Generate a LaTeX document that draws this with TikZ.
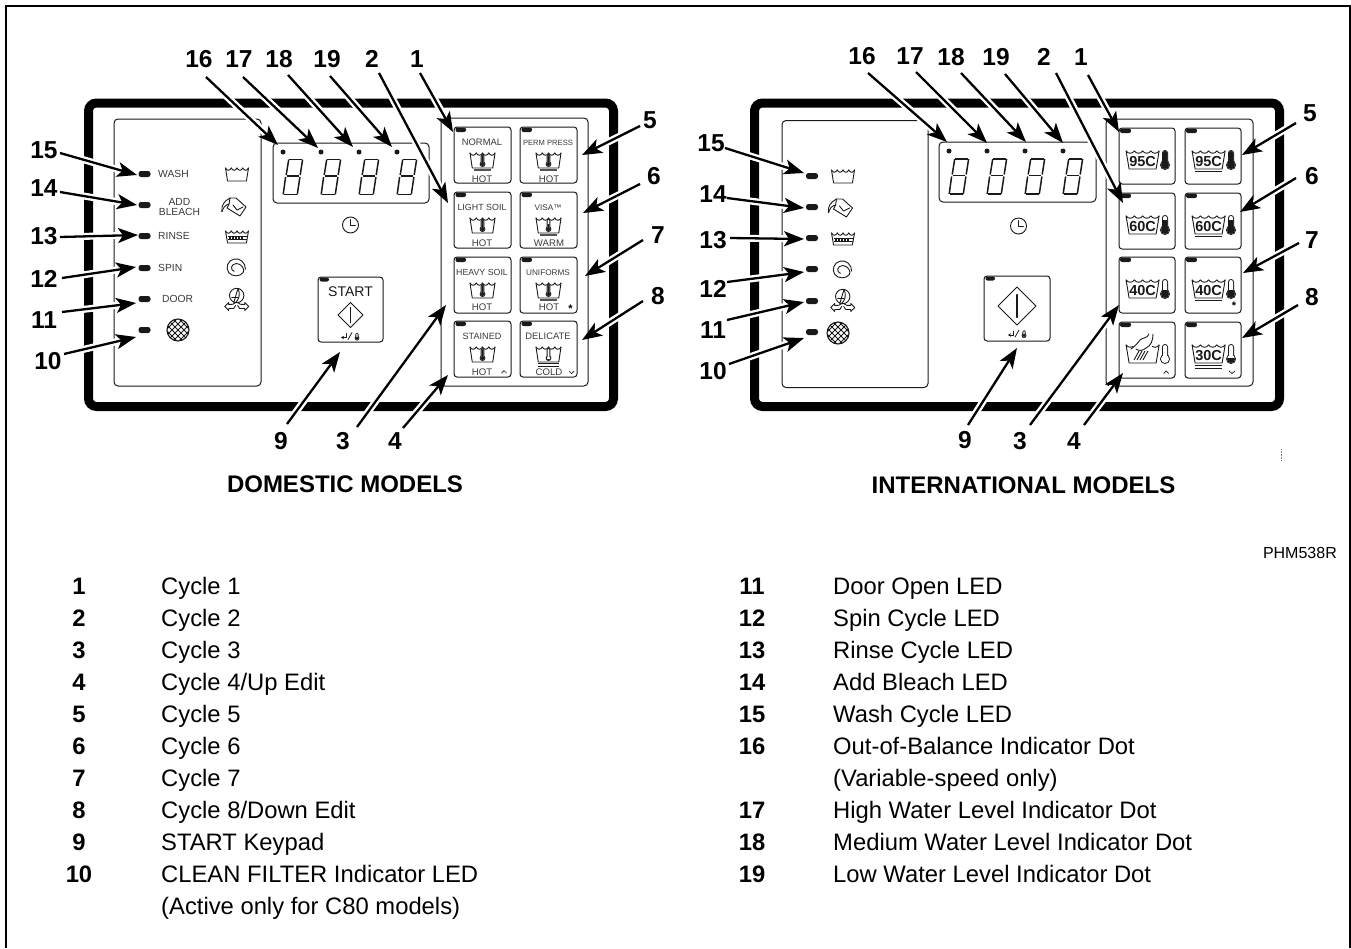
\documentclass[tikz,border=0pt]{standalone}
\usepackage{fontspec}
\setmainfont{Liberation Sans}
\usetikzlibrary{arrows.meta}
\definecolor{ink}{HTML}{1A1A1A}
\definecolor{soft}{HTML}{3A3A3A}
\tikzset{
  box/.style={draw=ink,line width=1pt,rounded corners=4pt},
  key/.style={draw=ink,line width=1pt,fill=white,rounded corners=3pt},
  ic/.style={draw=ink,line width=0.9pt,line cap=round,line join=round},
  led/.style={fill=ink,rounded corners=2.5pt},
  num/.style={font=\fontsize{24.5}{28}\selectfont\bfseries,inner sep=0pt,text=black},
  lst/.style={font=\fontsize{23.8}{28}\selectfont,inner sep=0pt,anchor=base west,text=black},
  lnum/.style={font=\fontsize{23.8}{28}\selectfont\bfseries,inner sep=0pt,anchor=base,text=black},
  ttl/.style={font=\fontsize{24}{28}\selectfont\bfseries,inner sep=0pt,text=black},
  kt/.style={font=\fontsize{9.6}{11}\selectfont,inner sep=0pt,text=soft},
  fs/.style={font=\fontsize{#1}{11}\selectfont},
  lt/.style={font=\fontsize{10.3}{10.5}\selectfont,inner sep=0pt,text=soft,anchor=west},
  halo/.style={draw=white,line width=7pt,shorten >=14pt},
  arrowline/.style={draw=black,line width=2.3pt,-{Stealth[length=20pt,width=15pt,inset=5pt]}},
}
\newcommand\ledmark[2]{\fill[led] ({#1-6},{#2-3}) rectangle ({#1+6},{#2+3});}
\newcommand\tubicon[5]{%
  \begin{scope}[shift={(#1,#2)}]
    \pgfmathsetmacro\tubs{#3/#5}
    \foreach \tubi in {1,...,#5}{
      \pgfmathsetmacro\tuba{-#3/2+(\tubi-1)*\tubs}
      \pgfmathsetmacro\tubb{\tuba+\tubs}
      \pgfmathsetmacro\tubca{\tuba+.25*\tubs}
      \pgfmathsetmacro\tubcb{\tuba+.75*\tubs}
      \draw[ic] (\tuba,0) .. controls (\tubca,3) and (\tubcb,3) .. (\tubb,0);
    }
    \draw[ic] ({-#3/2},0) -- ({-#3/2+#3*.09},#4) -- ({#3/2-#3*.09},#4) -- ({#3/2},0);
  \end{scope}}
\newcommand\thermo[6]{%
  \begin{scope}[shift={(#1,#2)}]
    \pgfmathsetmacro\thw{#4/2}
    \pgfmathsetmacro\thy{#3-#5}
    \pgfmathsetmacro\thwi{max(\thw-1,0.3)}
    \pgfmathsetmacro\thri{#5-1}
    \pgfmathsetmacro\thti{1}
    \pgfmathsetmacro\thlev{\thy+#5-(#6)*#3}
    \fill[ink] (0,\thy) circle (#5);
    \fill[ink,rounded corners=\thw pt] (-\thw,0) rectangle (\thw,\thy);
    \fill[white] (0,\thy) circle (\thri);
    \fill[white,rounded corners=\thwi pt] (-\thwi,\thti) rectangle (\thwi,\thy);
    \begin{scope}
      \clip (-20,\thlev) rectangle (20,{#3+2});
      \fill[ink] (0,\thy) circle (\thri);
      \fill[ink,rounded corners=\thwi pt] (-\thwi,\thti) rectangle (\thwi,\thy);
    \end{scope}
  \end{scope}}
\newcommand\sevenseg[2]{%
  \begin{scope}[shift={(#1,#2)},line width=1.5pt,draw=ink,line cap=butt]
    \draw (6.2,0.6) -- (19,0.6);
    \draw (19.6,0.6) -- (17.2,16);
    \draw (16.9,18) -- (14.3,35.4);
    \draw (14,35.4) -- (1,35.4);
    \draw (0.2,35.4) -- (2.6,18);
    \draw (3.2,16) -- (5.7,0.6);
    \draw (3.8,17) -- (16,17);
  \end{scope}}
\newcommand\clockicon[2]{%
  \begin{scope}[shift={(#1,#2)}]
    \draw[ic] (0,0) circle (8);
    \draw[ic] (0,-5.5) -- (0,0) -- (5,0);
  \end{scope}}
\newcommand\bleachicon[2]{%
  \begin{scope}[shift={(#1,#2)}]
    \draw[ic] (-2,-9) -- (4,-9) -- (14,0) -- (8,9) -- (-5,1) -- (-3,-3) -- cycle;
    \draw[ic] (-2,-9) .. controls (-8,-6) and (-11,-1) .. (-10,4);
    \draw[ic] (-3,-3) .. controls (-7,-2) and (-9,1) .. (-10,4);
    \draw[ic] (1,-2) -- (5,3) -- (11,0);
    \fill[ink] (-10,4) circle (1);
  \end{scope}}
\newcommand\spinicon[2]{%
  \begin{scope}[shift={(#1,#2)},scale=1.12]
    \draw[ic] (8,1) .. controls (8,-5) and (3,-9) .. (-2,-8) .. controls (-8,-7) and (-10,0) .. (-7,4)
      .. controls (-4,8) and (3,8) .. (6,4) .. controls (8,1) and (4,-4) .. (0,-4)
      .. controls (-5,-4) and (-6,2) .. (-2,3);
  \end{scope}}
\newcommand\dooricon[2]{%
  \begin{scope}[shift={(#1,#2)}]
    \draw[ic] (0,-8) circle (7.2);
    \draw[ic] (1.5,-15) .. controls (-1,-9) and (-1,-6) .. (-3,-1);
    \draw[ic] (1.5,-15) .. controls (4,-9) and (2,-4) .. (-1,-1);
    \draw[ic] (-5,-6) -- (1,-6);
    \draw[ic] (-1,-1) .. controls (-2,1) and (-5,1) .. (-8,1);
    \draw[ic] (1,-1) .. controls (2,1) and (5,1) .. (8,1);
    \draw[ic] (-8,1) -- (-8,-1) -- (-12,3) -- (-8,7) -- (-8,5) -- (-3,5) -- (-1,2);
    \draw[ic] (8,1) -- (8,-1) -- (12,3) -- (8,7) -- (8,5) -- (3,5) -- (1,2);
  \end{scope}}
\newcommand\filtericon[2]{%
  \begin{scope}[shift={(#1,#2)}]
    \fill[white] (0,0) circle (11);
    \begin{scope}
      \clip (0,0) circle (11);
      \foreach \fo in {-24,-18,...,24}{
        \draw[ink,line width=1pt] (\fo-12,-12) -- (\fo+12,12);
        \draw[ink,line width=1pt] (\fo-12,12) -- (\fo+12,-12);
      }
    \end{scope}
    \draw[ink,line width=1.1pt] (0,0) circle (11);
  \end{scope}}
\newcommand\startdiamond[3]{%
  \begin{scope}[shift={(#1,#2)}]
    \draw[ic,line width=1pt] (-#3,0) -- (0,-#3) -- (#3,0) -- (0,#3) -- cycle;
    \draw[ic,line width=1.1pt] (0,{-#3*.6}) -- (0,{#3*.6});
  \end{scope}}
\newcommand\startmark[3]{%
  \begin{scope}[shift={(#1,#2)}]
    \draw[ic,line width=.8pt,-{Stealth[length=3pt,width=3.5pt]}] (-5,-3) -- (-5,1) -- (-10,1);
    \draw[ic,line width=.8pt] (-3,3) -- (1,-4);
    \thermo{6}{-4}{8}{3.4}{2.4}{#3}
  \end{scope}}
\newcommand\dkey[7]{%
  \begin{scope}[shift={(#1,#2)}]
    \draw[key] (0,0) rectangle (57,56);
    \fill[ink,rounded corners=2pt] (1.5,0.5) rectangle (12,5);
    \node[kt,#7] (#3) at (28,15.5) {#4};
    \tubicon{28.5}{26}{25}{15}{4}
    \thermo{28.5}{27}{13}{3.6}{2.9}{#5}
    #6
  \end{scope}}
\newcommand\ubar{\draw[ink!75,line width=1.1pt] (20,43) -- (37,43);}
\newcommand\ubars{\draw[ink,line width=.9pt] (18,42) -- (39,42) (18,45) -- (39,45);}
\newcommand\ikey[5]{%
  \begin{scope}[shift={(#1,#2)}]
    \draw[key] (0,0) rectangle (56,56);
    \fill[ink,rounded corners=2pt] (1,0.5) rectangle (12,5);
    \tubicon{23.6}{23}{33}{18}{4}
    \node[inner sep=0pt,font=\fontsize{14.5}{16}\selectfont\bfseries,text=ink] at (23.6,33.7) {#3};
    \thermo{46}{22}{20}{6}{5}{#4}
    #5
  \end{scope}}
\newcommand\iubar{\draw[ink,line width=.9pt] (10,43.7) -- (37,43.7);}
\newcommand\iubars{\draw[ink,line width=.9pt] (10,43) -- (37,43) (10,46) -- (37,46);}
\newcommand\callout[5]{%
  \node[num] (n#1) at (#2) {#3};
  \coordinate (s#1) at (#4);
  \coordinate (t#1) at (#5);
  \draw[halo] (s#1) -- (t#1);
  \draw[arrowline] (s#1) -- (t#1);}
\begin{document}
\begin{tikzpicture}[x=1pt,y=-1pt]
\useasboundingbox (0,0) rectangle (1351,948);
\fill[white] (0,0) rectangle (1351,948);
\coordinate (fa) at (6,948);
\coordinate (fb) at (6,6.2);
\coordinate (fc) at (1350.2,6.2);
\coordinate (fd) at (1350.2,948);
\draw[black,line width=2.3pt] (fa) -- (fb) -- (fc) -- (fd);

% ----- domestic panel -----
\draw[black,line width=9pt,rounded corners=8pt] (88.5,103) rectangle (613.5,406.5);
\draw[box] (114,119) rectangle (261,386);
\draw[box] (441,118) rectangle (588,386);
\draw[box] (273,143) rectangle (429,203);
\foreach \dx in {283,321,359,397}{\fill[ink] (\dx,152) circle (2.5);
  \sevenseg{\dx}{159}}
\clockicon{350.5}{225}
\foreach \ly in {174,205,236,268,299,330}{\ledmark{144.5}{\ly}}
\node[lt] (dwash) at (158,174) {WASH};
\node[lt,anchor=center,align=center] (dbleach) at (179.5,207) {ADD\\BLEACH};
\node[lt] (drinse) at (158,236) {RINSE};
\node[lt] (dspin) at (158,268) {SPIN};
\node[lt] (ddoor) at (162,299) {DOOR};
\tubicon{237}{168}{23}{13}{4}
\bleachicon{232}{207}
\tubicon{237}{231}{23}{12}{4}
\draw[ink,line width=.7pt] (227.5,236) -- (246.5,236) (227.5,239) -- (246.5,239);
\foreach \gx in {230,233,236,239,242}{\draw[ink,line width=1.1pt] (\gx,236) -- (\gx,239);}
\spinicon{236.5}{268}
\dooricon{236.7}{303.5}
\filtericon{178}{330}
\draw[key] (318,277) rectangle (383,342);
\fill[ink,rounded corners=2pt] (319.5,277.5) rectangle (329,281.5);
\node[inner sep=0pt,font=\fontsize{14}{16}\selectfont,text=ink] (dstart) at (350.5,292) {START};
\startdiamond{350.5}{315}{12.5}
\startmark{351}{336.5}{0.4}
\dkey{454}{127}{kNormal}{NORMAL}{1}{\ubar}{fs=9.4}
\dkey{454}{192}{kLight}{LIGHT SOIL}{1}{}{fs=8.9}
\dkey{454}{257}{kHeavy}{HEAVY SOIL}{1}{}{fs=8.8}
\dkey{454}{321}{kStained}{STAINED}{1}{}{fs=9.1}
\dkey{520}{127}{kPerm}{PERM PRESS}{1}{\ubar}{fs=7.6}
\dkey{520}{192}{kVisa}{VISA™}{.55}{\ubar}{fs=8.2}
\dkey{520}{257}{kUni}{UNIFORMS}{1}{\ubar}{fs=8.2}
\dkey{520}{321}{kDel}{DELICATE}{.12}{\ubars}{fs=9.4}
\node[kt] (h1) at (482,179) {HOT};
\node[kt] (h2) at (482,243) {HOT};
\node[kt] (h3) at (482,307) {HOT};
\node[kt] (h4) at (482,372) {HOT};
\node[kt] (h5) at (549,179) {HOT};
\node[kt] (h6) at (549,243) {WARM};
\node[kt] (h7) at (549,307) {HOT};
\node[kt] (h8) at (549,372) {COLD};
\node[inner sep=0pt,font=\fontsize{11}{11}\selectfont\bfseries] (st1) at (570.5,309) {*};
\draw[ink,line width=.7pt] (501.5,373) -- (504,370.5) -- (506.5,373);
\draw[ink,line width=.7pt] (569,371) -- (571.5,373.5) -- (574,371);

% ----- international panel -----
\draw[black,line width=9pt,rounded corners=8pt] (754.5,103) rectangle (1279.5,406.5);
\draw[box] (782,120.5) rectangle (928,387.5);
\draw[box] (1106,119) rectangle (1253,386);
\draw[box] (939,142) rectangle (1096,202);
\foreach \dx in {949,987,1025,1063}{\fill[ink] (\dx,151) circle (2.5);
  \sevenseg{\dx}{158.5}}
\clockicon{1018.5}{226}
\foreach \ly in {176,207,238,269,301,332}{\ledmark{812}{\ly}}
\tubicon{843}{170}{23}{13}{4}
\bleachicon{838.5}{208}
\tubicon{843}{233}{23}{12}{4}
\draw[ink,line width=.7pt] (833.5,238) -- (852.5,238) (833.5,241) -- (852.5,241);
\foreach \gx in {836,839,842,845,848}{\draw[ink,line width=1.1pt] (\gx,238) -- (\gx,241);}
\spinicon{842.7}{270}
\dooricon{842.7}{304.5}
\filtericon{838}{333}
\draw[key] (984,276) rectangle (1050,341);
\fill[ink,rounded corners=2pt] (985.5,276.5) rectangle (995,280.5);
\startdiamond{1017}{306}{19}
\startmark{1018}{334}{0.4}
\ikey{1119}{128}{95C}{1}{}
\ikey{1119}{193}{60C}{.72}{}
\ikey{1119}{257}{40C}{.45}{}
\ikey{1185}{128}{95C}{1}{\iubar}
\ikey{1185}{193}{60C}{.72}{\iubar}
\ikey{1185}{257}{40C}{.45}{\iubar}
\ikey{1185}{322}{30C}{.28}{\iubars}
\begin{scope}[shift={(1119,322)}]
  \draw[key] (0,0) rectangle (56,56);
  \fill[ink,rounded corners=2pt] (1,0.5) rectangle (12,5);
  \tubicon{23.6}{23}{33}{18}{4}
  \fill[white] (13,23) -- (20,12) -- (32,12) -- (35,22) -- (27,30) -- (17,27) -- cycle;
  \draw[ic] (12,27) .. controls (16,24) and (18,22) .. (21,18) .. controls (24,15) and (28,17) .. (30,12);
  \draw[ic] (34,12) .. controls (34,18) and (32,24) .. (27,26) .. controls (24,29) and (19,29) .. (17,27);
  \foreach \hx in {0,3,6,9}{\draw[ink,line width=.9pt] (15+\hx,38) -- (20+\hx,29);}
  \thermo{46}{22}{20}{6}{5}{0}
\end{scope}
\draw[ink,line width=.7pt] (1163.5,373.5) -- (1166,371) -- (1168.5,373.5);
\draw[ink,line width=.7pt] (1229,371) -- (1232,373.5) -- (1235,371);
\node[inner sep=0pt,font=\fontsize{11}{11}\selectfont\bfseries] (st2) at (1234,305.5) {*};
\coordinate (tickA) at (1281,449);
\coordinate (tickB) at (1281,460);
\draw[gray,line width=.5pt,densely dotted] (tickA) -- (tickB);

% ----- callouts -----
\callout{a16}{199,59}{16}{206,77}{278,145}
\callout{a17}{239,59}{17}{243,77}{318,148}
\callout{a18}{279,59}{18}{288,75}{353,147}
\callout{a19}{327,59}{19}{330,76}{392,147}
\callout{a2}{372,59}{2}{379,73}{448,203}
\callout{a1}{417,59}{1}{420,73}{453,132}
\callout{a15}{44,150}{15}{60,153}{137,175}
\callout{a14}{44,188}{14}{60,192}{137,205}
\callout{a13}{44,236}{13}{60,237}{138,235}
\callout{a12}{44,279}{12}{62,278}{136,267}
\callout{a11}{44,320}{11}{62,312}{136,303}
\callout{a10}{48,361}{10}{64,354}{136,337}
\callout{a9}{281,441}{9}{287,424}{340,352}
\callout{a3}{343,441}{3}{357,427}{446,305}
\callout{a4}{395,441}{4}{403,428}{448,375}
\callout{a5}{650,120}{5}{640,126}{582,155}
\callout{a6}{654,176}{6}{640,184}{583,213}
\callout{a7}{658,235}{7}{643,240}{585,276}
\callout{a8}{658,296}{8}{643,301}{582,340}

\callout{b16}{862,56}{16}{868,73}{947,142}
\callout{b17}{910,56}{17}{916,72}{987,143}
\callout{b18}{951,57}{18}{961,73}{1026,142}
\callout{b19}{996,57}{19}{1005,74}{1063,143}
\callout{b2}{1044,57}{2}{1056,73}{1123,203}
\callout{b1}{1081,57}{1}{1088,75}{1119,132}
\callout{b15}{711,143}{15}{725,148}{804,173}
\callout{b14}{713,194}{14}{727,198}{804,208}
\callout{b13}{713,240}{13}{730,238}{804,239}
\callout{b12}{713,289}{12}{727,282}{804,272}
\callout{b11}{713,330}{11}{727,320}{804,302}
\callout{b10}{713,371}{10}{729,364}{804,338}
\callout{b9}{965,440}{9}{968,425}{1017,348}
\callout{b3}{1020,441}{3}{1030,425}{1119,305}
\callout{b4}{1074,441}{4}{1084,425}{1123,373}
\callout{b5}{1310,113}{5}{1296,123}{1242,155}
\callout{b6}{1312,176}{6}{1296,178}{1240,212}
\callout{b7}{1312,240}{7}{1299,243}{1243,273}
\callout{b8}{1312,297}{8}{1298,305}{1242,338}

% ----- titles -----
\node[ttl] (tDom) at (345,484) {DOMESTIC MODELS};
\node[ttl] (tInt) at (1023.5,485) {INTERNATIONAL MODELS};
\node[inner sep=0pt,font=\fontsize{16}{18}\selectfont,anchor=east] (tPh) at (1337,553) {PHM538R};

% ----- legend -----
\foreach \n/\ty/\tx in {1/594/Cycle 1,2/626/Cycle 2,3/658/Cycle 3,4/690/Cycle 4\slash Up Edit,5/722/Cycle 5,6/754/Cycle 6,7/786/Cycle 7,8/818/Cycle 8\slash Down Edit,9/850/START Keypad,10/882/CLEAN FILTER Indicator LED}{
  \node[lnum] (ln\n) at (79,\ty) {\n};
  \node[lst] (lt\n) at (161,\ty) {\tx};
}
\node[lst] (lt10b) at (161,914) {(Active only for C80 models)};
\foreach \n/\ty/\tx in {11/594/Door Open LED,12/626/Spin Cycle LED,13/658/Rinse Cycle LED,14/690/Add Bleach LED,15/722/Wash Cycle LED,16/754/Out-of-Balance Indicator Dot,17/818/High Water Level Indicator Dot,18/850/Medium Water Level Indicator Dot,19/882/Low Water Level Indicator Dot}{
  \node[lnum] (ln\n) at (752,\ty) {\n};
  \node[lst] (lt\n) at (833,\ty) {\tx};
}
\node[lst] (lt16b) at (833,786) {(Variable-speed only)};
\end{tikzpicture}
\end{document}
